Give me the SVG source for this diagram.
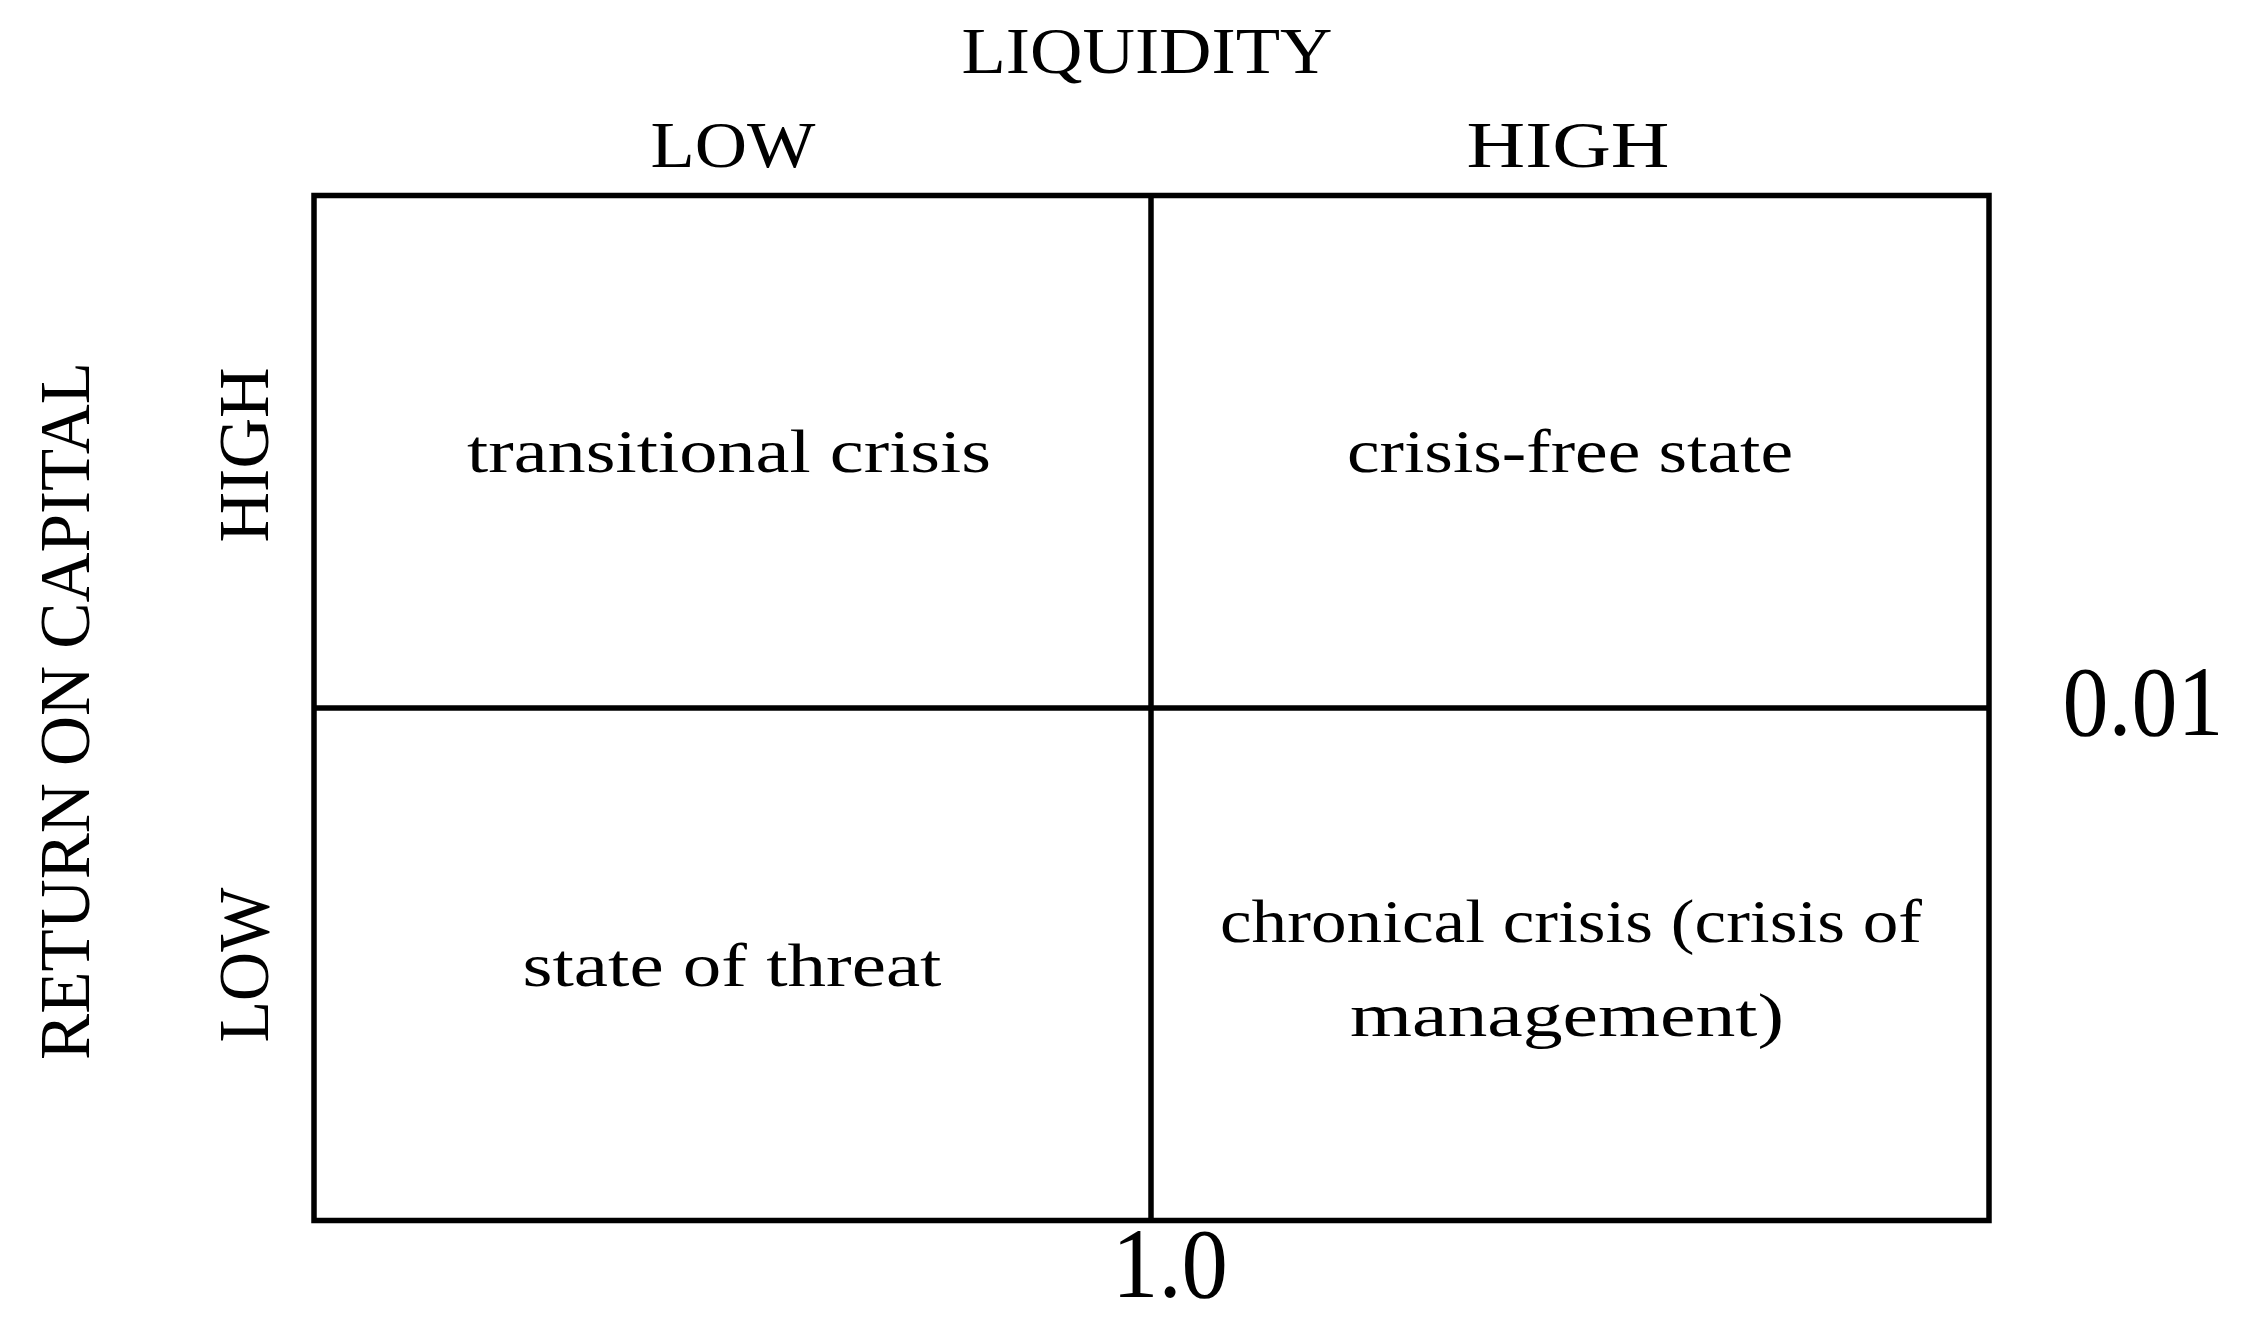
<svg xmlns="http://www.w3.org/2000/svg" width="2252" height="1328" viewBox="0 0 2252 1328">
<style>
.t{font-family:"Liberation Serif","Times New Roman",serif;fill:#000;text-anchor:middle}
.ax{font-size:66px}
.side{font-size:72px}
.cell{font-size:62px}
.num{font-size:100px}
.ln{stroke:#000;stroke-width:5.5;fill:none}
</style>
<rect width="2252" height="1328" fill="#fff"/>
<g id="grid">
<rect class="ln" x="314" y="195.5" width="1675" height="1025"/>
<line class="ln" x1="1151" y1="195.5" x2="1151" y2="1220.5"/>
<line class="ln" x1="314" y1="708" x2="1989" y2="708"/>
</g>
<g id="axis-liquidity">
<text class="t ax" x="1147" y="73" textLength="371" lengthAdjust="spacingAndGlyphs">LIQUIDITY</text>
<text class="t ax" x="733" y="167" textLength="165" lengthAdjust="spacingAndGlyphs">LOW</text>
<text class="t ax" x="1568" y="167" textLength="203" lengthAdjust="spacingAndGlyphs">HIGH</text>
</g>
<g id="axis-return">
<text class="t side" transform="translate(89,711) rotate(-90)" x="0" y="0" textLength="698" lengthAdjust="spacingAndGlyphs">RETURN ON CAPITAL</text>
<text class="t side" transform="translate(268,455) rotate(-90)" x="0" y="0" textLength="175" lengthAdjust="spacingAndGlyphs">HIGH</text>
<text class="t side" transform="translate(268,965) rotate(-90)" x="0" y="0" textLength="155" lengthAdjust="spacingAndGlyphs">LOW</text>
</g>
<g id="cell-transitional">
<text class="t cell" x="729" y="472" textLength="524" lengthAdjust="spacingAndGlyphs">transitional crisis</text>
</g>
<g id="cell-crisis-free">
<text class="t cell" x="1570" y="472" textLength="446" lengthAdjust="spacingAndGlyphs">crisis-free state</text>
</g>
<g id="cell-threat">
<text class="t cell" x="732" y="986" textLength="419" lengthAdjust="spacingAndGlyphs">state of threat</text>
</g>
<g id="cell-chronical">
<text class="t cell" x="1571" y="942" textLength="702" lengthAdjust="spacingAndGlyphs">chronical crisis (crisis of</text>
<text class="t cell" x="1567" y="1036" textLength="434" lengthAdjust="spacingAndGlyphs">management)</text>
</g>
<g id="thresholds">
<text class="t num" x="2143" y="735" textLength="161" lengthAdjust="spacingAndGlyphs">0.01</text>
<text class="t num" x="1170" y="1297" textLength="116" lengthAdjust="spacingAndGlyphs">1.0</text>
</g>
</svg>
